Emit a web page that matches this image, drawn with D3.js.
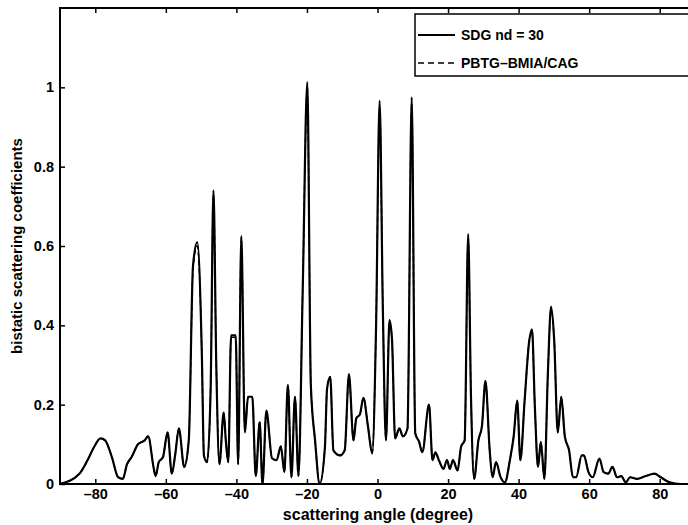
<!DOCTYPE html>
<html><head><meta charset="utf-8">
<script src="https://cdn.jsdelivr.net/npm/d3@7"></script>
<style>
html,body{margin:0;padding:0;background:#fff;}
svg{display:block;}
text{font-family:"Liberation Sans",Arial,Helvetica,sans-serif;font-weight:bold;fill:#000;}
</style></head>
<body><svg id="c" width="688" height="525"></svg>
<script>
const angles = [-90,-84.5,-82.2,-80.3,-78.5,-77.2,-75.3,-73.5,-72.2,-71,-69.7,-67.9,-66,-65,-63.5,-62.9,-62,-60.8,-59.5,-58.3,-57.3,-56.3,-54.8,-53.5,-52.3,-51.1,-49.8,-49.2,-48.3,-47.3,-46.5,-45.7,-44.8,-43.6,-43,-42.3,-41.5,-40.2,-39.5,-38.6,-37.6,-36.7,-35.5,-34.5,-33.4,-32.6,-31.5,-29.9,-28.6,-27.4,-26.4,-25.4,-24.4,-23.4,-22.4,-21.2,-19.9,-18.9,-17.7,-16.4,-14.9,-14.3,-13.4,-12.5,-10.6,-9.3,-8.1,-6.8,-6,-5,-4,-2.7,-1.5,-0.4,0.6,1.5,2.4,3.4,4.1,5,6.2,7.2,8.5,9.7,10.7,11.8,12.7,14.6,15.6,16.4,17.4,18.7,19.7,20.5,21.4,22.7,23.7,24.7,25.7,26.5,27.4,28.6,29.6,30.6,31.8,32.6,33.6,34.9,36.1,37.6,38.6,39.6,40.5,41.7,43,43.8,44.6,45.5,46.3,47.3,48.3,49.2,50.1,51.1,52.1,53.1,54.3,55.4,56.3,57.9,58.5,59.8,61,62.9,64.1,65.4,66.6,67.9,69.1,70.4,71.6,73.5,76,78.5,80.3,82.8,85.9,90];
const sdg = [0,0.026,0.06,0.094,0.115,0.11,0.068,0.017,0.013,0.05,0.068,0.1,0.11,0.12,0.043,0.02,0.055,0.068,0.13,0.026,0.077,0.14,0.043,0.11,0.55,0.61,0.33,0.072,0.055,0.24,0.74,0.3,0.05,0.18,0.11,0.055,0.375,0.375,0.05,0.625,0.13,0.22,0.22,0.02,0.155,0,0.185,0.065,0.06,0.095,0.03,0.25,0.017,0.22,0.02,0.49,1.013,0.25,0.11,0,0.094,0.24,0.27,0.085,0.072,0.085,0.277,0.11,0.166,0.175,0.217,0.145,0.077,0.4,0.966,0.45,0.11,0.413,0.366,0.115,0.14,0.12,0.14,0.975,0.128,0.106,0.08,0.2,0.06,0.08,0.06,0.038,0.06,0.038,0.06,0.034,0.094,0.11,0.63,0.22,0.013,0.11,0.145,0.26,0.085,0.017,0.055,0.017,0.004,0.064,0.12,0.21,0.06,0.21,0.36,0.39,0.196,0.043,0.106,0.013,0.28,0.447,0.36,0.13,0.22,0.12,0.085,0.017,0.017,0.072,0.072,0.03,0.017,0.064,0.03,0.026,0.043,0.017,0.02,0.004,0.017,0.013,0.02,0.026,0.017,0.004,0,0];
const pbtg = [0,0.026,0.06,0.094,0.115,0.11,0.068,0.017,0.013,0.05,0.068,0.1,0.11,0.122,0.043,0.02,0.055,0.068,0.13,0.026,0.077,0.14,0.043,0.11,0.54,0.6,0.33,0.072,0.055,0.24,0.73,0.3,0.05,0.18,0.11,0.055,0.37,0.37,0.05,0.62,0.13,0.22,0.22,0.02,0.16,0,0.185,0.065,0.06,0.095,0.03,0.25,0.017,0.22,0.02,0.49,1.0,0.25,0.11,0,0.094,0.24,0.27,0.085,0.072,0.085,0.27,0.11,0.166,0.175,0.217,0.145,0.077,0.4,0.95,0.45,0.11,0.41,0.366,0.115,0.14,0.12,0.14,0.96,0.128,0.106,0.08,0.2,0.06,0.08,0.06,0.038,0.06,0.038,0.06,0.034,0.094,0.11,0.62,0.22,0.013,0.11,0.145,0.26,0.085,0.017,0.055,0.017,0.004,0.064,0.12,0.21,0.06,0.21,0.36,0.385,0.196,0.043,0.106,0.013,0.28,0.44,0.36,0.13,0.22,0.12,0.085,0.017,0.017,0.072,0.072,0.03,0.017,0.064,0.03,0.026,0.043,0.017,0.02,0.004,0.017,0.013,0.02,0.026,0.017,0.004,0,0];
const xTicks = [-80,-60,-40,-20,0,20,40,60,80];
const yTicks = [0,0.2,0.4,0.6,0.8,1];
const yTickLabels = ["0","0.2","0.4","0.6","0.8","1"];
const legendLabels = ["SDG nd = 30","PBTG\u2013BMIA/CAG"];
const xTitle = "scattering angle (degree)";
const yTitle = "bistatic scattering coefficients";

const L=60, R=695, T=8, B=484;
const svg = d3.select("#c");
const x = d3.scaleLinear().domain([-90,90]).range([L,R]);
const y = d3.scaleLinear().domain([0,1.2]).range([B,T]);

svg.append("defs").append("clipPath").attr("id","clip")
  .append("rect").attr("x",L).attr("y",T-2).attr("width",R-L).attr("height",B-T+2);

const line = d3.line().x((d,i)=>x(angles[i])).y(d=>y(d)).curve(d3.curveMonotoneX);
const g = svg.append("g").attr("clip-path","url(#clip)");
g.append("path").datum(sdg).attr("d",line).attr("fill","none").attr("stroke","#000").attr("stroke-width",2.2).attr("stroke-linejoin","round");
g.append("path").datum(pbtg).attr("d",line).attr("fill","none").attr("stroke","#000").attr("stroke-width",1.4).attr("stroke-dasharray","5,3");

// axes
const ax = svg.append("g").attr("transform",`translate(0,${B})`)
  .call(d3.axisBottom(x).tickValues(xTicks).tickSizeInner(-5).tickSizeOuter(0).tickPadding(5).tickFormat(d=>d===0?"0":String(d).replace("-","\u2013")));
ax.selectAll("text").attr("font-size",14.5).attr("font-family",null);
const axT = svg.append("g").attr("transform",`translate(0,${T})`)
  .call(d3.axisTop(x).tickValues(xTicks).tickSizeInner(-5).tickSizeOuter(0).tickFormat(""));
const ay = svg.append("g").attr("transform",`translate(${L},0)`)
  .call(d3.axisLeft(y).tickValues(yTicks).tickSizeInner(-5).tickSizeOuter(0).tickPadding(6).tickFormat((d,i)=>yTickLabels[i]));
ay.selectAll("text").attr("font-size",14.5).attr("font-family",null);
svg.selectAll(".domain").remove();
svg.selectAll(".tick line").attr("stroke","#000").attr("stroke-width",1.5);

svg.append("rect").attr("x",L).attr("y",T).attr("width",R-L).attr("height",B-T)
  .attr("fill","none").attr("stroke","#000").attr("stroke-width",2);

// titles
svg.append("text").attr("x",378).attr("y",520).attr("text-anchor","middle").attr("font-size",16).text(xTitle);
svg.append("text").attr("transform",`translate(22,246) rotate(-90)`).attr("text-anchor","middle").attr("font-size",15).text(yTitle);

// legend
const lg = svg.append("g");
lg.append("rect").attr("x",415).attr("y",14).attr("width",290).attr("height",62).attr("fill","#fff").attr("stroke","#000").attr("stroke-width",1.5);
[0,1].forEach(i=>{
  const yy = 35 + i*28;
  lg.append("line").attr("x1",418).attr("x2",455).attr("y1",yy).attr("y2",yy).attr("stroke","#000").attr("stroke-width",i?1.6:2)
    .attr("stroke-dasharray",i?"6,4":null);
  lg.append("text").attr("x",461).attr("y",yy+5).attr("font-size",14).text(legendLabels[i]);
});
</script></body></html>
